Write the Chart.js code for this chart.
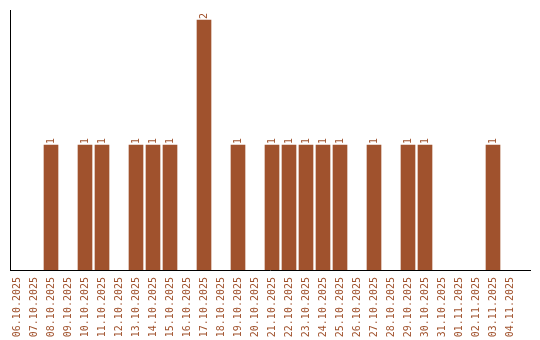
<!DOCTYPE html>
<html>
<head>
<meta charset="utf-8">
<script src="https://cdn.jsdelivr.net/npm/chart.js@4/dist/chart.umd.min.js"></script>
<style>
  html, body { margin: 0; padding: 0; background: #fff; }
  #wrap { width: 540px; height: 340px; }
</style>
</head>
<body>
<div id="wrap"><canvas id="myChart"></canvas></div>
<script>
// dates on the x axis
var days = ['06.10.2025', '07.10.2025', '08.10.2025', '09.10.2025', '10.10.2025',
    '11.10.2025', '12.10.2025', '13.10.2025', '14.10.2025', '15.10.2025',
    '16.10.2025', '17.10.2025', '18.10.2025', '19.10.2025', '20.10.2025',
    '21.10.2025', '22.10.2025', '23.10.2025', '24.10.2025', '25.10.2025',
    '26.10.2025', '27.10.2025', '28.10.2025', '29.10.2025', '30.10.2025',
    '31.10.2025', '01.11.2025', '02.11.2025', '03.11.2025', '04.11.2025'];
// count per day
var counts = [0, 0, 1, 0, 1, 1, 0, 1, 1, 1,
    0, 2, 0, 1, 0, 1, 1, 1, 1, 1,
    0, 1, 0, 1, 1, 0, 0, 0, 1, 0];

var brown = '#a0522d';
var monoFont = { family: "'DejaVu Sans Mono', monospace", size: 10 };

// small value labels on top of the bars, turned upright like the ticks
var barLabels = {
    id: 'barLabels',
    afterDatasetsDraw: function(chart) {
        var c = chart.ctx;
        var meta = chart.getDatasetMeta(0);
        c.save();
        c.fillStyle = brown;
        c.font = '10px ' + monoFont.family;
        c.textAlign = 'left';
        c.textBaseline = 'middle';
        meta.data.forEach(function(bar, i) {
            if (!counts[i]) return;
            c.save();
            c.translate(bar.x, bar.y - 1);
            c.rotate(-Math.PI / 2);
            c.fillText(String(counts[i]), 0, 0);
            c.restore();
        });
        c.restore();
    }
};

var ctx = document.getElementById('myChart');

var graphData = {
    type: 'bar',
    data: {
        datasets: [{
            data: counts.map(function(v, i) { return { x: i, y: v || null }; }),
            backgroundColor: brown,
            borderWidth: 0,
            barThickness: 14
        }]
    },
    options: {
        responsive: true,
        maintainAspectRatio: false,
        animation: false,
        layout: { padding: { left: 10, right: 10, top: 10, bottom: 0 } },
        plugins: {
            legend: { display: false },
            tooltip: { enabled: false }
        },
        scales: {
            x: {
                type: 'linear',
                offset: false,
                min: -7 / 17,
                max: 30 + 3 / 17,
                grid: { display: false, drawTicks: false },
                border: { display: true, color: '#000', width: 1 },
                afterBuildTicks: function(s) {
                    s.ticks = days.map(function(d, i) { return { value: i }; });
                },
                afterFit: function(s) { s.height = 70; },
                ticks: {
                    autoSkip: false,
                    minRotation: 90,
                    maxRotation: 90,
                    padding: 7,
                    color: brown,
                    font: monoFont,
                    callback: function(v) { return days[v] || ''; }
                }
            },
            y: {
                min: 0,
                max: 2.08,
                grid: { display: false, drawTicks: false },
                border: { display: true, color: '#000', width: 1 },
                ticks: { display: false },
                afterFit: function(s) { s.width = 0; }
            }
        }
    },
    plugins: [barLabels]
};

var myChart = new Chart(ctx, graphData);
</script>
</body>
</html>
